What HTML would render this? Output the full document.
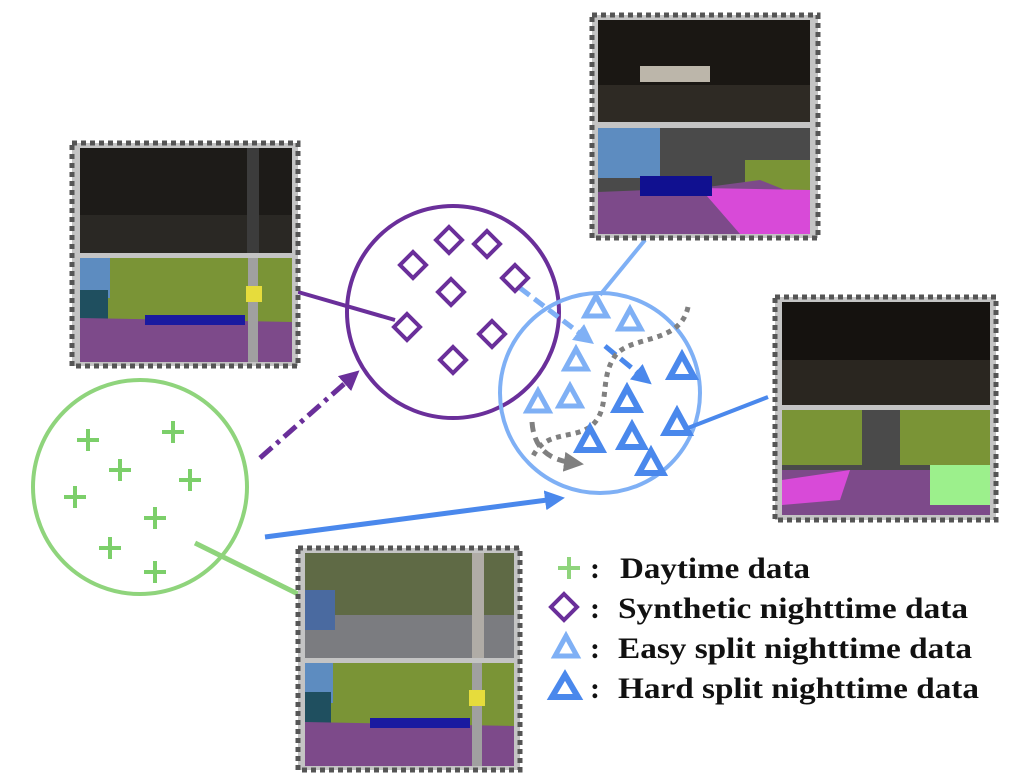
<!DOCTYPE html>
<html><head><style>html,body{margin:0;padding:0;background:#fff}svg{display:block}</style></head><body>
<svg width="1011" height="782" viewBox="0 0 1011 782" xmlns="http://www.w3.org/2000/svg">
<defs>
<marker id="ap" markerWidth="4" markerHeight="4" refX="2" refY="2" orient="auto" markerUnits="strokeWidth"><path d="M0,0L4,2L0,4z" fill="#6a2f9a"/></marker>
<marker id="ab" markerWidth="4" markerHeight="4" refX="2" refY="2" orient="auto" markerUnits="strokeWidth"><path d="M0,0L4,2L0,4z" fill="#4a88ec"/></marker>
<marker id="al" markerWidth="4" markerHeight="4" refX="2" refY="2" orient="auto" markerUnits="strokeWidth"><path d="M0,0L4,2L0,4z" fill="#7fb0f5"/></marker>
<marker id="ag" markerWidth="4" markerHeight="4" refX="2" refY="2" orient="auto" markerUnits="strokeWidth"><path d="M0,0L4,2L0,4z" fill="#808080"/></marker>
<g id="pl"><path d="M-11,0H11M0,-11V11" stroke="#7ccf6a" stroke-width="4"/></g>
<g id="dm"><path d="M0,-13L13,0L0,13L-13,0z" fill="none" stroke="#6a2f9a" stroke-width="4"/></g>
<g id="te"><path d="M0,-11L11,9L-11,9z" fill="none" stroke="#7fb0f5" stroke-width="5" stroke-linejoin="miter"/></g>
<g id="th"><path d="M0,-12L12,10L-12,10z" fill="none" stroke="#4a88ec" stroke-width="6"/></g>
</defs>

<circle cx="140" cy="487" r="107" fill="none" stroke="#8fd47c" stroke-width="4"/>
<circle cx="453" cy="312" r="106" fill="none" stroke="#6a2f9a" stroke-width="4"/>
<circle cx="600" cy="393" r="100" fill="none" stroke="#7fb0f5" stroke-width="4"/>

<line x1="260" y1="458" x2="352" y2="377" stroke="#6a2f9a" stroke-width="5" stroke-dasharray="16,6,4,6" marker-end="url(#ap)"/>
<line x1="265" y1="537" x2="555" y2="499" stroke="#4a88ec" stroke-width="5" marker-end="url(#ab)"/>
<line x1="195" y1="543" x2="300" y2="595" stroke="#8fd47c" stroke-width="5"/>
<line x1="298" y1="292" x2="395" y2="320" stroke="#6a2f9a" stroke-width="4"/>
<line x1="645" y1="240" x2="600" y2="295" stroke="#7fb0f5" stroke-width="4"/>
<line x1="768" y1="397" x2="688" y2="428" stroke="#4a88ec" stroke-width="4"/>
<line x1="520" y1="288" x2="586" y2="338" stroke="#7fb0f5" stroke-width="5" stroke-dasharray="12,6" marker-end="url(#al)"/>
<line x1="605" y1="346" x2="644" y2="378" stroke="#4a88ec" stroke-width="5" stroke-dasharray="14,6" marker-end="url(#ab)"/>
<path d="M688,307 C680,345 630,335 615,356 C598,380 612,410 590,427 C570,440 545,430 532,458" fill="none" stroke="#808080" stroke-width="5" stroke-dasharray="5,5"/>
<path d="M532,422 C534,450 550,460 574,463" fill="none" stroke="#808080" stroke-width="5" stroke-dasharray="10,6" marker-end="url(#ag)"/>

<use href="#pl" x="88" y="440"/><use href="#pl" x="173" y="432"/><use href="#pl" x="120" y="470"/><use href="#pl" x="190" y="480"/>
<use href="#pl" x="75" y="497"/><use href="#pl" x="155" y="518"/><use href="#pl" x="110" y="548"/><use href="#pl" x="155" y="572"/>
<use href="#dm" x="413" y="265"/><use href="#dm" x="449" y="240"/><use href="#dm" x="487" y="244"/><use href="#dm" x="515" y="278"/>
<use href="#dm" x="451" y="292"/><use href="#dm" x="407" y="327"/><use href="#dm" x="492" y="334"/><use href="#dm" x="453" y="360"/>
<use href="#te" x="596" y="307"/><use href="#te" x="630" y="320"/><use href="#te" x="576" y="360"/><use href="#te" x="570" y="397"/><use href="#te" x="538" y="402"/>
<use href="#th" x="682" y="367"/><use href="#th" x="627" y="400"/><use href="#th" x="590" y="440"/><use href="#th" x="632" y="437"/><use href="#th" x="677" y="423"/><use href="#th" x="651" y="463"/>

<g>
<rect x="72" y="143" width="226" height="223" fill="#c4c4c4" stroke="#555" stroke-width="5" stroke-dasharray="5,4"/>
<rect x="80" y="148" width="212" height="105" fill="#1d1b18"/><rect x="80" y="215" width="212" height="38" fill="#2a2824"/><rect x="247" y="148" width="12" height="105" fill="#3c3c3c"/>
<rect x="80" y="258" width="212" height="104" fill="#7a9436"/><rect x="80" y="258" width="30" height="40" fill="#5d8cc0"/><rect x="80" y="290" width="28" height="40" fill="#1f4f5f"/>
<path d="M80,318 L292,322 L292,362 L80,362z" fill="#7d4a8a"/><rect x="248" y="258" width="10" height="104" fill="#a0a0a0"/><rect x="246" y="286" width="16" height="16" fill="#e6dc3c"/>
<rect x="145" y="315" width="100" height="10" fill="#1a1aa0"/>
</g>
<g>
<rect x="592" y="15" width="226" height="223" fill="#c4c4c4" stroke="#555" stroke-width="5" stroke-dasharray="5,4"/>
<rect x="598" y="20" width="212" height="102" fill="#1a1713"/><rect x="598" y="85" width="212" height="37" fill="#2e2a24"/><rect x="640" y="66" width="70" height="16" fill="#bcb6aa"/>
<rect x="598" y="128" width="212" height="106" fill="#4a4a4a"/><rect x="598" y="128" width="62" height="50" fill="#5d8cc0"/><rect x="745" y="160" width="65" height="40" fill="#7a9436"/>
<path d="M598,192 L700,188 L760,180 L810,200 L810,234 L598,234z" fill="#7d4a8a"/><path d="M700,188 L810,190 L810,234 L740,234z" fill="#d84ad8"/><rect x="640" y="176" width="72" height="20" fill="#101090"/>
</g>
<g>
<rect x="775" y="297" width="221" height="223" fill="#c4c4c4" stroke="#555" stroke-width="5" stroke-dasharray="5,4"/>
<rect x="782" y="302" width="208" height="103" fill="#15120f"/><rect x="782" y="360" width="208" height="45" fill="#2a2620"/>
<rect x="782" y="410" width="208" height="105" fill="#4a4a4a"/><rect x="782" y="410" width="80" height="55" fill="#7a9436"/><rect x="900" y="410" width="90" height="55" fill="#7a9436"/>
<path d="M782,470 L990,470 L990,515 L782,515z" fill="#7d4a8a"/><path d="M782,480 L850,470 L840,500 L782,505z" fill="#d84ad8"/><rect x="930" y="465" width="60" height="40" fill="#9cf08c"/>
</g>
<g>
<rect x="298" y="548" width="222" height="222" fill="#c4c4c4" stroke="#555" stroke-width="5" stroke-dasharray="5,4"/>
<rect x="305" y="553" width="209" height="105" fill="#5f6a45"/><rect x="305" y="615" width="209" height="43" fill="#7b7c80"/><rect x="305" y="590" width="30" height="40" fill="#4a6aa0"/><rect x="472" y="553" width="12" height="105" fill="#b0aca6"/>
<rect x="305" y="663" width="209" height="103" fill="#7a9436"/><rect x="305" y="663" width="28" height="40" fill="#5d8cc0"/><rect x="305" y="692" width="26" height="40" fill="#1f4f5f"/>
<path d="M305,722 L514,726 L514,766 L305,766z" fill="#7d4a8a"/><rect x="472" y="663" width="10" height="103" fill="#a0a0a0"/><rect x="469" y="690" width="16" height="16" fill="#e6dc3c"/>
<rect x="370" y="718" width="100" height="10" fill="#1a1aa0"/>
</g>

<g font-family="Liberation Serif, serif" font-weight="bold" font-size="30" fill="#111">
<path d="M558,568H580M569,557V579" stroke="#8fd47c" stroke-width="4"/>
<path d="M564,594L577,607L564,620L551,607z" fill="none" stroke="#6a2f9a" stroke-width="4"/>
<path d="M566,636L577,656L555,656z" fill="none" stroke="#7fb0f5" stroke-width="5"/>
<path d="M565,675L578,697L552,697z" fill="none" stroke="#4a88ec" stroke-width="6"/>
<text x="590" y="578">:</text><text x="620" y="578" textLength="190" lengthAdjust="spacingAndGlyphs">Daytime data</text>
<text x="590" y="618">:</text><text x="618" y="618" textLength="350" lengthAdjust="spacingAndGlyphs">Synthetic nighttime data</text>
<text x="590" y="658">:</text><text x="618" y="658" textLength="354" lengthAdjust="spacingAndGlyphs">Easy split nighttime data</text>
<text x="590" y="698">:</text><text x="618" y="698" textLength="361" lengthAdjust="spacingAndGlyphs">Hard split nighttime data</text>
</g>
</svg>
</body></html>
